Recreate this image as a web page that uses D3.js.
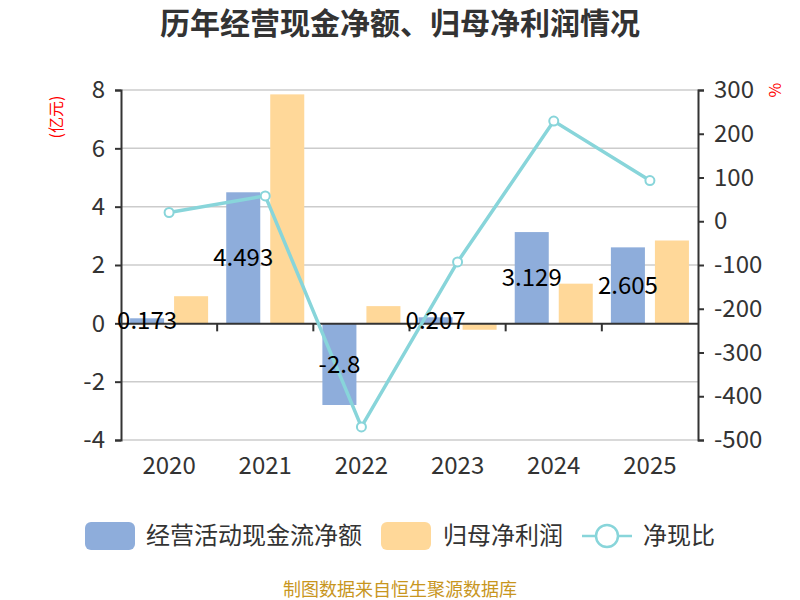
<!DOCTYPE html>
<html><head><meta charset="utf-8">
<script src="https://cdn.jsdelivr.net/npm/d3@7"></script>
<style>body{margin:0;background:#fff;} text{font-family:"Noto Sans CJK SC","Noto Sans",sans-serif;}</style>
</head><body>
<svg id="c" width="800" height="600"></svg>
<script>
const years = ["2020","2021","2022","2023","2024","2025"];
const cashFlow = [0.173, 4.493, -2.8, 0.207, 3.129, 2.605];
const netProfit = [0.93, 7.85, 0.59, -0.22, 1.36, 2.84];
const ratio = [20, 58, -470, -93, 229, 93];
const leftTicks = [-4, -2, 0, 2, 4, 6, 8];
const rightTicks = [-500, -400, -300, -200, -100, 0, 100, 200, 300];
const seriesNames = ["经营活动现金流净额", "归母净利润", "净现比"];
const colors = ["#8EADDB", "#FFD899", "#88D5DA"];

const svg = d3.select("#c");
const L = 121, R = 698, T = 90, B = 440;
const x = d3.scaleBand().domain(years).range([L, R]).padding(0);
const xi = d3.scaleBand().domain([0,1]).range([0, x.bandwidth()]).paddingInner(0.227).paddingOuter(0.206);
const yL = d3.scaleLinear().domain([-4, 8]).range([B, T]);
const yR = d3.scaleLinear().domain([-500, 300]).range([B, T]);
const fmt = d => String(d);

// title
svg.append("text").attr("x", 400).attr("y", 34).attr("text-anchor","middle")
  .attr("font-size", 30).attr("font-weight","bold").attr("fill","#333").text("历年经营现金净额、归母净利润情况");

// grid
svg.append("g").selectAll("line").data(leftTicks.filter(d=>d!==0)).join("line")
  .attr("x1", L).attr("x2", R).attr("y1", d=>yL(d)).attr("y2", d=>yL(d))
  .attr("stroke","#ccc").attr("stroke-width",1.5);

// bars
const series = [cashFlow, netProfit];
series.forEach((vals, si) => {
  svg.append("g").selectAll("rect").data(vals).join("rect")
    .attr("x", (d,i)=>x(years[i]) + xi(si))
    .attr("width", xi.bandwidth())
    .attr("y", d=>Math.min(yL(d), yL(0)))
    .attr("height", d=>Math.abs(yL(d)-yL(0)))
    .attr("fill", colors[si]);
});

// left axis
const axL = svg.append("g").attr("transform",`translate(${L},0)`)
  .call(d3.axisLeft(yL).tickValues(leftTicks).tickSize(6).tickPadding(10).tickFormat(fmt));
axL.select(".domain").attr("stroke","#333").attr("stroke-width",2);
axL.selectAll(".tick line").attr("stroke","#333").attr("stroke-width",2);
axL.selectAll(".tick text").attr("font-size",24).attr("fill","#333").attr("font-family",'"Noto Sans CJK SC",sans-serif');

// right axis
const axR = svg.append("g").attr("transform",`translate(${R},0)`)
  .call(d3.axisRight(yR).tickValues(rightTicks).tickSize(6).tickPadding(10).tickFormat(fmt));
axR.select(".domain").attr("stroke","#333").attr("stroke-width",2);
axR.selectAll(".tick line").attr("stroke","#333").attr("stroke-width",2);
axR.selectAll(".tick text").attr("font-size",24).attr("fill","#333").attr("font-family",'"Noto Sans CJK SC",sans-serif');

// x axis at zero
const axX = svg.append("g").attr("transform",`translate(0,${yL(0)})`)
  .call(d3.axisBottom(x).tickSize(0).tickFormat(""));
axX.select(".domain").attr("stroke","#333").attr("stroke-width",2);
svg.append("g").selectAll("line").data(years.slice(1)).join("line")
  .attr("x1", d=>x(d)).attr("x2", d=>x(d)).attr("y1", yL(0)).attr("y2", yL(0)+8)
  .attr("stroke","#333").attr("stroke-width",2);
svg.append("g").selectAll("text").data(years).join("text")
  .attr("x", d=>x(d)+x.bandwidth()/2).attr("y", 474).attr("text-anchor","middle")
  .attr("font-size",24).attr("fill","#333").text(d=>d);

// axis units
svg.append("text").attr("transform","translate(62,117) rotate(-90)").attr("text-anchor","middle")
  .attr("font-size",16).attr("fill","red").text("(亿元)");
svg.append("text").attr("transform","translate(781,90) rotate(-90)").attr("text-anchor","middle")
  .attr("font-size",16).attr("fill","red").text("%");

// line
const line = d3.line().x((d,i)=>x(years[i])+x.bandwidth()/2).y(d=>yR(d));
svg.append("path").datum(ratio).attr("d", line).attr("fill","none")
  .attr("stroke", colors[2]).attr("stroke-width",3.5);
svg.append("g").selectAll("circle").data(ratio).join("circle")
  .attr("cx",(d,i)=>x(years[i])+x.bandwidth()/2).attr("cy", d=>yR(d)).attr("r",4.5)
  .attr("fill","#fff").attr("stroke",colors[2]).attr("stroke-width",2);

// bar labels
svg.append("g").selectAll("text").data(cashFlow).join("text")
  .attr("x",(d,i)=>x(years[i])+xi(0)+xi.bandwidth()/2)
  .attr("y", d=>(yL(d)+yL(0))/2).attr("dy","0.36em").attr("text-anchor","middle")
  .attr("font-size",24).attr("fill","#000").text(d=>fmt(d));

// legend
const lg = svg.append("g");
lg.append("rect").attr("x",85).attr("y",522).attr("width",50).attr("height",28).attr("rx",6).attr("fill",colors[0]);
lg.append("text").attr("x",146).attr("y",544).attr("font-size",24).attr("fill","#333").text(seriesNames[0]);
lg.append("rect").attr("x",381).attr("y",522).attr("width",50).attr("height",28).attr("rx",6).attr("fill",colors[1]);
lg.append("text").attr("x",443).attr("y",544).attr("font-size",24).attr("fill","#333").text(seriesNames[1]);
lg.append("line").attr("x1",582).attr("x2",632).attr("y1",536).attr("y2",536).attr("stroke",colors[2]).attr("stroke-width",2.5);
lg.append("circle").attr("cx",607).attr("cy",536).attr("r",11).attr("fill","#fff").attr("stroke",colors[2]).attr("stroke-width",2.5);
lg.append("text").attr("x",643).attr("y",544).attr("font-size",24).attr("fill","#333").text(seriesNames[2]);

// footer
svg.append("text").attr("x",400).attr("y",596).attr("text-anchor","middle")
  .attr("font-size",18).attr("fill","#C8961E").text("制图数据来自恒生聚源数据库");
</script>
</body></html>
